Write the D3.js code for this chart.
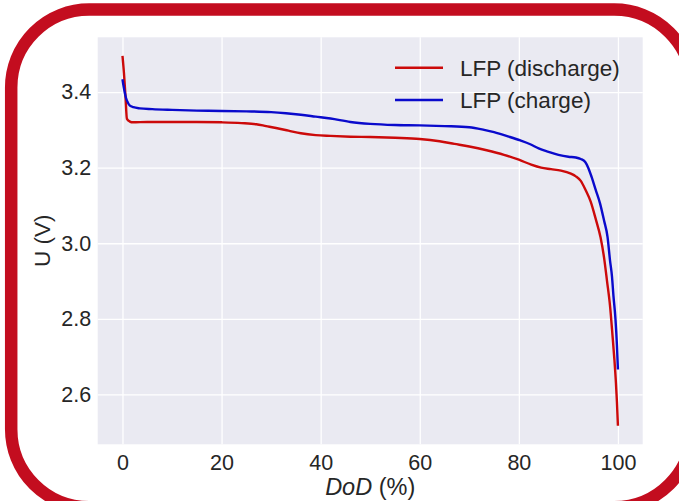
<!DOCTYPE html>
<html>
<head>
<meta charset="utf-8">
<script src="https://cdn.jsdelivr.net/npm/d3@7"></script>
<style>
  html, body { margin: 0; padding: 0; background: #fff; }
  svg { display: block; font-family: "Liberation Sans", Arial, sans-serif; }
</style>
</head>
<body>
<div id="chart"></div>
<script>
// LFP cell voltage vs depth of discharge.
const dischargeDoD = [0, 0.3, 0.6, 0.9, 1.5, 2.1, 5, 10, 15, 20, 24, 27, 29, 31, 33.5, 36, 39, 42, 46, 50,
  55, 60, 64, 67, 70, 73.5, 77, 80, 82.5, 84.5, 86.5, 88.5, 90.5, 91.5, 92.5, 93.5, 94.5, 95.5, 96.5,
  97.2, 97.8, 98.4, 98.9, 99.3, 99.6, 99.8, 100];
const dischargeU = [3.496, 3.45, 3.39, 3.329, 3.322, 3.320, 3.321, 3.321, 3.321, 3.320, 3.318, 3.315, 3.310,
  3.305, 3.298, 3.291, 3.286, 3.284, 3.282, 3.281, 3.279, 3.276, 3.270, 3.263, 3.256, 3.246, 3.234, 3.221,
  3.208, 3.200, 3.196, 3.192, 3.184, 3.177, 3.165, 3.140, 3.110, 3.065, 3.015, 2.962, 2.900, 2.835, 2.757,
  2.690, 2.630, 2.580, 2.517];

const chargeDoD = [0, 0.3, 0.7, 1.1, 1.5, 2.2, 3.5, 6, 10, 15, 20, 25, 30, 33, 36, 39, 42, 46, 50, 55, 60,
  65, 70, 73, 75, 78, 80.3, 82.3, 84, 86, 88, 90, 91.5, 92.5, 93.4, 94, 94.7, 95.5, 96.4, 97.2, 97.9,
  98.4, 98.8, 99.1, 99.5, 99.8, 100];
const chargeU = [3.434, 3.41, 3.385, 3.372, 3.364, 3.360, 3.357, 3.355, 3.353, 3.351, 3.350, 3.349, 3.347,
  3.344, 3.340, 3.335, 3.330, 3.321, 3.316, 3.313, 3.312, 3.310, 3.307, 3.300, 3.294, 3.282, 3.272, 3.262,
  3.251, 3.242, 3.234, 3.229, 3.227, 3.223, 3.215, 3.200, 3.175, 3.142, 3.105, 3.060, 3.017, 2.955, 2.912,
  2.860, 2.800, 2.730, 2.666];

const seriesNames = ['LFP (discharge)', 'LFP (charge)'];
const seriesColors = ['#cc0a0a', '#0a0acc'];
const xTicks = [0, 20, 40, 60, 80, 100];
const yTicks = [2.6, 2.8, 3.0, 3.2, 3.4];

const width = 679, height = 501;
const plotBox = {left: 97.7, right: 642.7, top: 37.3, bottom: 444.3};

const svg = d3.select('#chart').append('svg')
  .attr('width', width)
  .attr('height', height);

// Outer rounded red frame, partly cut off by the window edges.
svg.append('rect')
  .attr('x', 11.2).attr('y', 9.6)
  .attr('width', 681).attr('height', 497.6)
  .attr('rx', 78).attr('ry', 78)
  .attr('fill', 'none')
  .attr('stroke', '#c30d1f')
  .attr('stroke-width', 12.5);

const series = [
  dischargeDoD.map((x, i) => ({x, y: dischargeU[i]})),
  chargeDoD.map((x, i) => ({x, y: chargeU[i]}))
];

// matplotlib style 5% margins around the data
const xExt = d3.extent(dischargeDoD.concat(chargeDoD));
const yExt = d3.extent(dischargeU.concat(chargeU));
const xPad = (xExt[1] - xExt[0]) * 0.05;
const yPad = (yExt[1] - yExt[0]) * 0.05;

const x = d3.scaleLinear()
  .domain([xExt[0] - xPad, xExt[1] + xPad])
  .range([plotBox.left, plotBox.right]);
const y = d3.scaleLinear()
  .domain([yExt[0] - yPad, yExt[1] + yPad])
  .range([plotBox.bottom, plotBox.top]);

svg.append('rect')
  .attr('x', plotBox.left).attr('y', plotBox.top)
  .attr('width', plotBox.right - plotBox.left)
  .attr('height', plotBox.bottom - plotBox.top)
  .attr('fill', '#eaeaf2');

// White grid lines from the axes, labels drawn separately.
svg.append('g')
  .attr('transform', `translate(0,${plotBox.bottom})`)
  .call(d3.axisBottom(x).tickValues(xTicks).tickSize(-(plotBox.bottom - plotBox.top)).tickFormat(''))
  .call(g => g.select('.domain').remove())
  .call(g => g.selectAll('line').attr('stroke', '#fff').attr('stroke-width', 1.3));

svg.append('g')
  .attr('transform', `translate(${plotBox.left},0)`)
  .call(d3.axisLeft(y).tickValues(yTicks).tickSize(-(plotBox.right - plotBox.left)).tickFormat(''))
  .call(g => g.select('.domain').remove())
  .call(g => g.selectAll('line').attr('stroke', '#fff').attr('stroke-width', 1.3));

// Tick labels
svg.append('g')
  .attr('transform', `translate(0,${plotBox.bottom})`)
  .call(d3.axisBottom(x).tickValues(xTicks).tickSize(0).tickPadding(10).tickFormat(d3.format('d')))
  .call(g => g.select('.domain').remove())
  .call(g => g.selectAll('text').attr('font-size', 21.5).attr('fill', '#262626')
    .attr('font-family', '"Liberation Sans", Arial, sans-serif'));

svg.append('g')
  .attr('transform', `translate(${plotBox.left},0)`)
  .call(d3.axisLeft(y).tickValues(yTicks).tickSize(0).tickPadding(6.5).tickFormat(d3.format('.1f')))
  .call(g => g.select('.domain').remove())
  .call(g => g.selectAll('text').attr('font-size', 21.5).attr('fill', '#262626')
    .attr('font-family', '"Liberation Sans", Arial, sans-serif'));

// Axis titles
const xTitle = svg.append('text')
  .attr('x', (plotBox.left + plotBox.right) / 2)
  .attr('y', 495)
  .attr('text-anchor', 'middle')
  .attr('font-size', 23.5)
  .attr('fill', '#262626');
xTitle.append('tspan').attr('font-style', 'italic').text('DoD');
xTitle.append('tspan').text(' (%)');

svg.append('text')
  .attr('transform', `translate(50,${(plotBox.top + plotBox.bottom) / 2}) rotate(-90)`)
  .attr('text-anchor', 'middle')
  .attr('font-size', 22.5)
  .attr('fill', '#262626')
  .text('U (V)');

// Curves
const line = d3.line()
  .x(d => x(d.x))
  .y(d => y(d.y))
  .curve(d3.curveMonotoneX);

svg.append('g')
  .selectAll('path')
  .data(series)
  .join('path')
  .attr('d', line)
  .attr('fill', 'none')
  .attr('stroke', (d, i) => seriesColors[i])
  .attr('stroke-width', 2.4)
  .attr('stroke-linejoin', 'round');

// Legend, no frame
const legend = svg.append('g');
const legendItems = legend.selectAll('g')
  .data(seriesNames)
  .join('g')
  .attr('transform', (d, i) => `translate(395,${67.7 + i * 32.3})`);

legendItems.append('line')
  .attr('x1', 0).attr('x2', 48)
  .attr('stroke', (d, i) => seriesColors[i])
  .attr('stroke-width', 2.4);

legendItems.append('text')
  .attr('x', 65)
  .attr('dy', '0.35em')
  .attr('font-size', 22.5)
  .attr('fill', '#262626')
  .text(d => d);
</script>
</body>
</html>
